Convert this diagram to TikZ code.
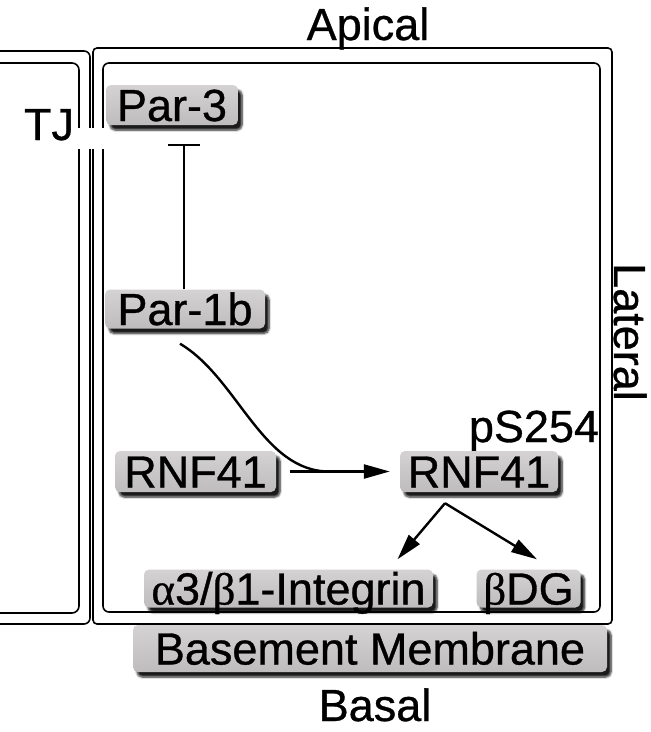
\documentclass[tikz,border=0pt]{standalone}
\usepackage{fontspec}
\setmainfont[FakeBold=0.7]{Liberation Sans}
\newfontfamily\grk[FakeBold=0.7]{Liberation Serif}
\usetikzlibrary{arrows.meta,shadows.blur}
\definecolor{boxtop}{RGB}{212,210,210}
\definecolor{boxbot}{RGB}{190,188,188}
\begin{document}
\begin{tikzpicture}[x=1pt,y=-1pt,
  every node/.style={font=\fontsize{45}{52}\selectfont},
  gbox/.style={draw=none, top color=boxtop, bottom color=boxbot, rounded corners=5pt, text height=32pt, text depth=0pt, inner sep=0pt, align=center,
    blur shadow={shadow xshift=4pt, shadow yshift=-5pt, shadow blur steps=6, shadow opacity=90}},
  cell/.style={line width=1.6pt, draw=black},
  conn/.style={line width=2.4pt},
  arr/.style={conn, -{Triangle[length=26pt,width=14pt]}},
  ]
\useasboundingbox (0,0) rectangle (651,732);
% cell outlines
\draw[cell, rounded corners=6pt] (0,51) -- (90,51) -- (90,624) -- (0,624);
\draw[cell, rounded corners=7pt] (0,63) -- (79,63) -- (79,613) -- (0,613);
\draw[cell, rounded corners=4pt] (93,48) rectangle (612,624);
\draw[cell, rounded corners=6pt] (103,63) rectangle (600,612);
\fill[white] (71,128) rectangle (109,149);
% labels
\node[anchor=base] (apical) at (368,40) {Apical};
\node[anchor=base] (tj) at (49,140) {TJ};
\node[anchor=base] (ps) at (534,442) {pS254};
\node[anchor=base, rotate=-90] (lateral) at (614,332) {Lateral};
\node[anchor=base] (basal) at (375,721) {Basal};
% boxes
\node[gbox, minimum width=132pt, minimum height=40pt] (par3) at (172,105) {Par-3};
\node[gbox, minimum width=160pt, minimum height=39pt] (par1b) at (185,309) {Par-1b};
\node[gbox, minimum width=161pt, minimum height=41pt] (rnfL) at (195.5,471.5) {RNF41};
\node[gbox, minimum width=158pt, minimum height=41pt] (rnfR) at (479,471.5) {RNF41};
\node[gbox, minimum width=289pt, minimum height=38pt] (integ) at (288.5,588.5) {{\grk α}3/{\grk β}1-Integrin};
\node[gbox, minimum width=104pt, minimum height=38pt] (bdg) at (528.5,588.5) {{\grk β}DG};
\node[gbox, minimum width=474pt, minimum height=47pt] (bm) at (370,648.5) {Basement Membrane};
% connectors
\coordinate (tbar) at (184,144);
\draw[conn, -{Bar[width=32pt,line width=2.4pt]}] ([xshift=-1pt]par1b.north) -- (tbar);
\draw[conn] ([shift={(-5,15)}]par1b.south) .. controls (238,378) and (262,472) .. ([xshift=-70pt]rnfR.west);
\draw[arr] ([xshift=14pt]rnfL.east) -- ([xshift=-10pt]rnfR.west);
\draw[arr] ([shift={(-34,11)}]rnfR.south) -- ([shift={(109,-10)}]integ.north);
\draw[arr] ([shift={(-34,11)}]rnfR.south) -- ([shift={(8.5,-10)}]bdg.north);
\end{tikzpicture}
\end{document}
